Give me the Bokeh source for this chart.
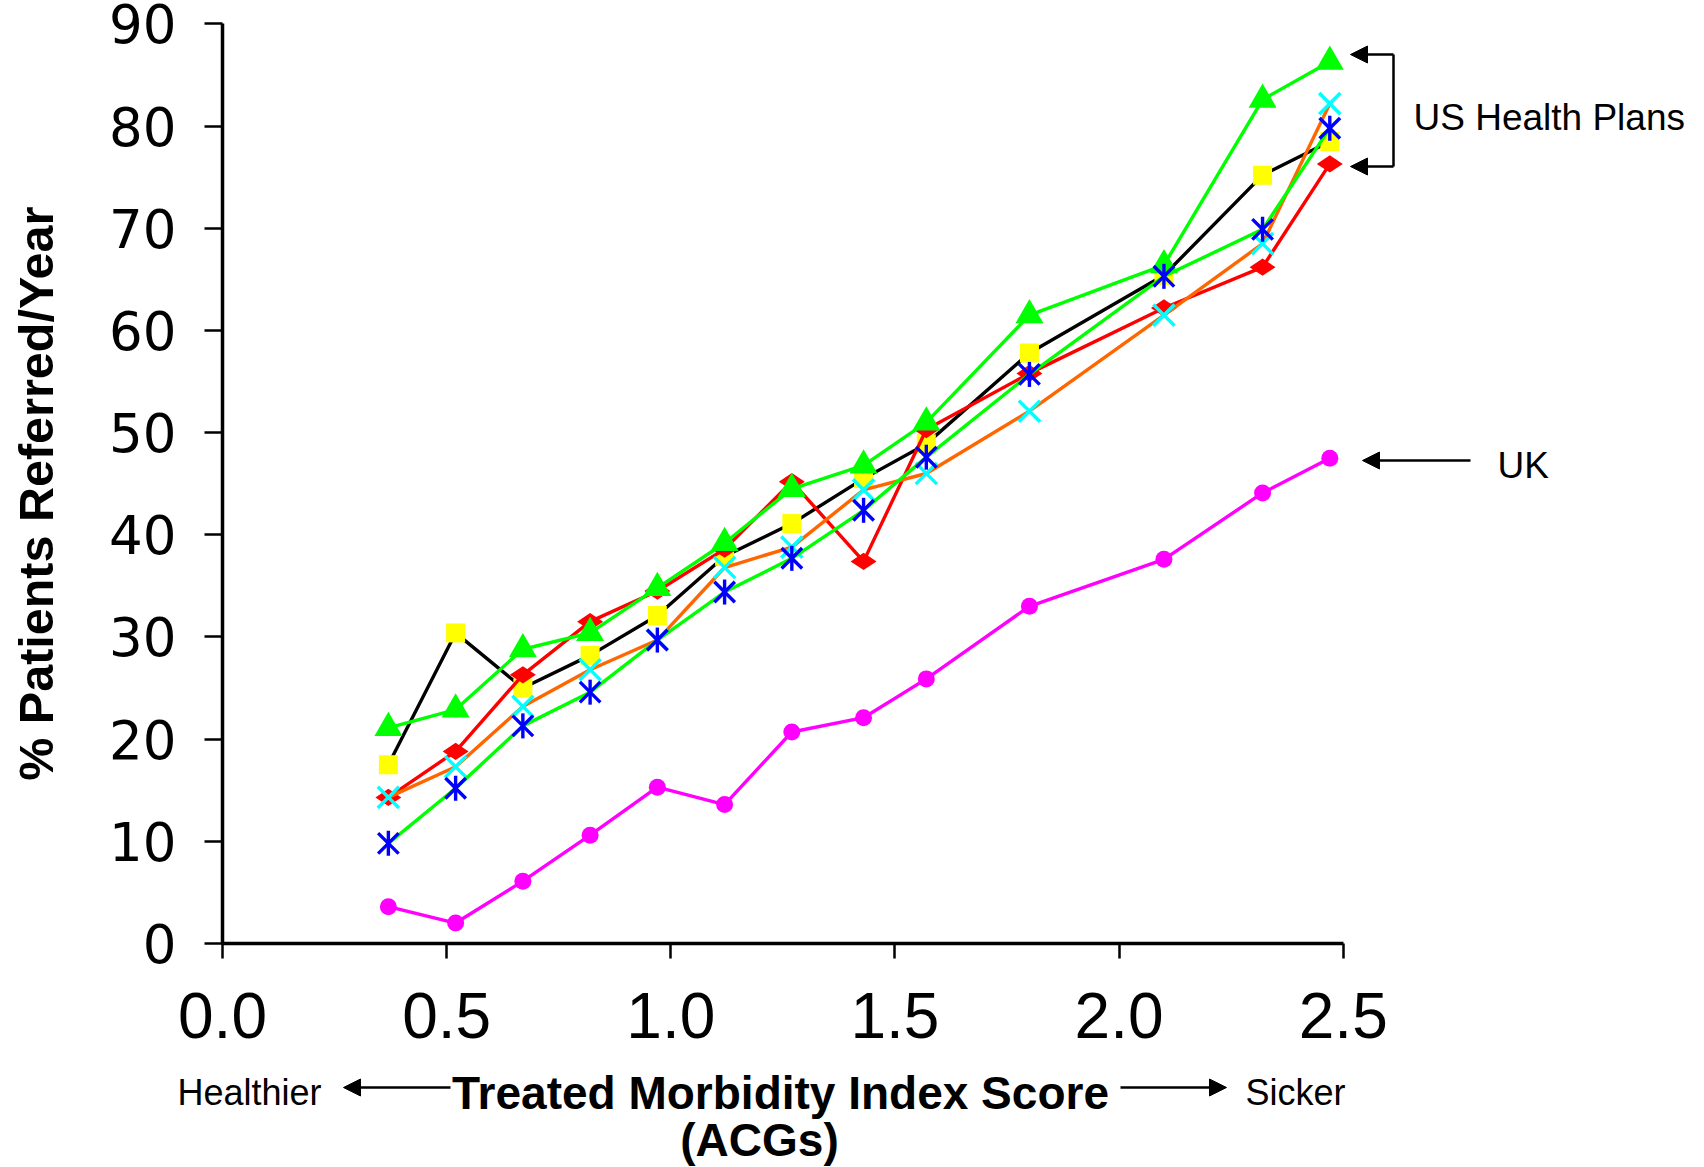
import math
from bokeh.plotting import figure
from bokeh.models import (ColumnDataSource, Range1d, FixedTicker, PrintfTickFormatter,
                          Label, Arrow, NormalHead, LinearAxis)
from bokeh.layouts import column, row
from bokeh.core.properties import value
from bokeh.embed import file_html
from bokeh.resources import INLINE

# ---- data ----
acg_score = [0.37, 0.52, 0.67, 0.82, 0.97, 1.12, 1.27, 1.43, 1.57, 1.80, 2.10, 2.32, 2.47]
plan_a = [17.5, 30.4, 25.0, 28.2, 32.1, 37.9, 41.1, 45.5, 48.9, 57.8, 65.4, 75.2, 78.5]   # black line, yellow squares
plan_b = [14.3, 18.8, 26.3, 31.5, 34.5, 38.6, 45.2, 37.4, 50.3, 55.8, 62.2, 66.2, 76.3]   # red diamonds
plan_c = [21.1, 22.9, 28.8, 30.4, 34.8, 39.2, 44.5, 46.8, 51.0, 61.5, 66.4, 82.6, 86.3]   # green triangles
plan_d = [14.3, 17.3, 23.2, 26.8, 29.7, 36.8, 38.8, 44.4, 46.0, 52.1, 61.5, 68.5, 82.2]   # orange line, cyan x
plan_e = [9.8, 15.2, 21.3, 24.6, 29.7, 34.4, 37.7, 42.4, 47.6, 55.7, 65.3, 69.9, 79.8]    # green line, blue asterisks
uk = [3.6, 2.0, 6.1, 10.6, 15.3, 13.6, 20.7, 22.1, 25.9, 33.0, 37.6, 44.1, 47.5]          # magenta circles

y_ticks = [0, 10, 20, 30, 40, 50, 60, 70, 80, 90]
x_ticks = [0.0, 0.5, 1.0, 1.5, 2.0, 2.5]

W, H = 1704, 1167
LEFT_FIG_W = 70
LEFT = 222                 # x pixel of y axis
PX_PER_X = 448.3
PX_PER_Y = 10.217
FRAME_W = W - LEFT
FRAME_H = 943              # x axis pixel row
BOTTOM_BORDER = 122
MAIN_H = FRAME_H + BOTTOM_BORDER
BOTTOM_H = H - MAIN_H

FONT = "Liberation Sans"

p = figure(frame_width=FRAME_W, frame_height=FRAME_H, output_backend="svg", toolbar_location=None,
           x_range=Range1d(0, FRAME_W / PX_PER_X), y_range=Range1d(0, FRAME_H / PX_PER_Y),
           min_border_left=LEFT - LEFT_FIG_W, min_border_bottom=BOTTOM_BORDER,
           min_border_top=0, min_border_right=0,
           x_axis_type=None, y_axis_type=None)
p.outline_line_color = None
p.background_fill_color = "white"
p.border_fill_color = "white"

xax = LinearAxis(ticker=FixedTicker(ticks=x_ticks), formatter=PrintfTickFormatter(format="%.1f"))
xax.bounds = (0, 2.5)
xax.axis_line_width = 3.5
xax.axis_line_color = "black"
xax.major_tick_line_width = 2.5
xax.major_tick_in = 0
xax.major_tick_out = 15
xax.minor_tick_line_color = None
xax.major_label_standoff = 34
xax.major_label_text_font = FONT
xax.major_label_text_font_size = "64px"
xax.major_label_text_color = "black"
p.add_layout(xax, "below")

yax = LinearAxis(ticker=FixedTicker(ticks=y_ticks))
yax.bounds = (0, 90)
yax.axis_line_width = 3.5
yax.axis_line_color = "black"
yax.major_tick_line_width = 2.5
yax.major_tick_in = 0
yax.major_tick_out = 18
yax.minor_tick_line_color = None
yax.major_label_standoff = 28
yax.major_label_text_font = "DejaVu Sans"
yax.major_label_text_font_size = "53px"
yax.major_label_text_color = "black"
p.add_layout(yax, "left")

src = ColumnDataSource(dict(x=acg_score, a=plan_a, b=plan_b, c=plan_c, d=plan_d, e=plan_e, uk=uk))
LW = 3.4

# series 1: black line, yellow squares
p.line("x", "a", source=src, line_color="black", line_width=LW)
p.scatter("x", "a", source=src, marker="square", size=19, fill_color="#FFFF00", line_color=None)
# series 2: red diamonds
p.line("x", "b", source=src, line_color="#FF0000", line_width=LW)
p.scatter("x", "b", source=src, marker="diamond", angle=math.pi / 2, size=26,
          fill_color="#FF0000", line_color=None)
# series 3: green triangles
p.line("x", "c", source=src, line_color="#00FF00", line_width=LW)
p.scatter("x", "c", source=src, marker="triangle", size=28, fill_color="#00FF00", line_color=None)
# series 4: orange line, cyan x
p.line("x", "d", source=src, line_color="#FF6600", line_width=LW)
p.scatter("x", "d", source=src, marker="x", size=30, line_color="#00FFFF", line_width=3.4)
# series 5: green line, blue asterisks
p.line("x", "e", source=src, line_color="#00FF00", line_width=LW)
p.scatter("x", "e", source=src, marker="x", size=29, line_color="#0000FF", line_width=3.4)
p.scatter("x", "e", source=src, marker="dash", angle=math.pi / 2, size=25, line_color="#0000FF", line_width=3.4)
# series 6: UK magenta circles
p.line("x", "uk", source=src, line_color="#FF00FF", line_width=LW)
p.scatter("x", "uk", source=src, marker="circle", size=17, fill_color="#FF00FF", line_color=None)


def px(xf):
    return (xf - LEFT) / PX_PER_X


def py(yf):
    return (FRAME_H - yf) / PX_PER_Y


def main_label(text, xf, yf, size):
    p.add_layout(Label(x=px(xf), y=py(yf), text=text, text_font=FONT, text_font_size=size,
                       text_align="left", text_baseline="middle", text_color="black"))


def main_arrow(x0, y0, x1, y1, head=True):
    p.add_layout(Arrow(x_start=px(x0), y_start=py(y0), x_end=px(x1), y_end=py(y1),
                       line_color="black", line_width=2.5,
                       end=NormalHead(size=17, fill_color="black", line_color="black") if head else None))


# right-hand annotations
main_label("US Health Plans", 1413, 117, "37px")
main_arrow(1393, 54, 1350, 54)
main_arrow(1393, 166, 1350, 166)
main_arrow(1393, 54, 1393, 166, head=False)
main_label("UK", 1497, 465, "37px")
main_arrow(1470, 460, 1362, 460)


def blank_fig(w, h):
    f = figure(width=w, height=h, output_backend="svg", toolbar_location=None,
               x_range=Range1d(0, w), y_range=Range1d(h, 0),
               min_border=0, x_axis_type=None, y_axis_type=None)
    f.outline_line_color = None
    f.grid.visible = False
    f.background_fill_color = "white"
    f.border_fill_color = "white"
    return f


# left: y-axis title
left = blank_fig(LEFT_FIG_W, MAIN_H)
left.text(x=[35], y=[557], text=["% Patients Referred/Year"], angle=math.pi / 2,
          text_font=value(FONT), text_font_size=value("48.5px"), text_font_style=value("bold"),
          text_align=value("center"), text_baseline=value("middle"), text_color="black")

# bottom: x-axis title with Healthier / Sicker arrows
bot = blank_fig(W, BOTTOM_H)
oy = MAIN_H
bot.text(x=[780, 759], y=[1092 - oy, 1139 - oy], text=["Treated Morbidity Index Score", "(ACGs)"],
         text_font=value(FONT), text_font_size=value("46px"), text_font_style=value("bold"),
         text_align=value("center"), text_baseline=value("middle"), text_color="black")
bot.text(x=[177, 1245], y=[1092 - oy, 1092 - oy], text=["Healthier", "Sicker"],
         text_font=value(FONT), text_font_size=value("36px"),
         text_align=value("left"), text_baseline=value("middle"), text_color="black")
for x0, x1 in [(450, 343), (1120, 1226)]:
    bot.add_layout(Arrow(x_start=x0, y_start=1087 - oy, x_end=x1, y_end=1087 - oy,
                         line_color="black", line_width=2.5,
                         end=NormalHead(size=17, fill_color="black", line_color="black")))

layout = column(row(left, p, spacing=0), bot, spacing=0)
open("out.html", "w").write(file_html(layout, INLINE))
